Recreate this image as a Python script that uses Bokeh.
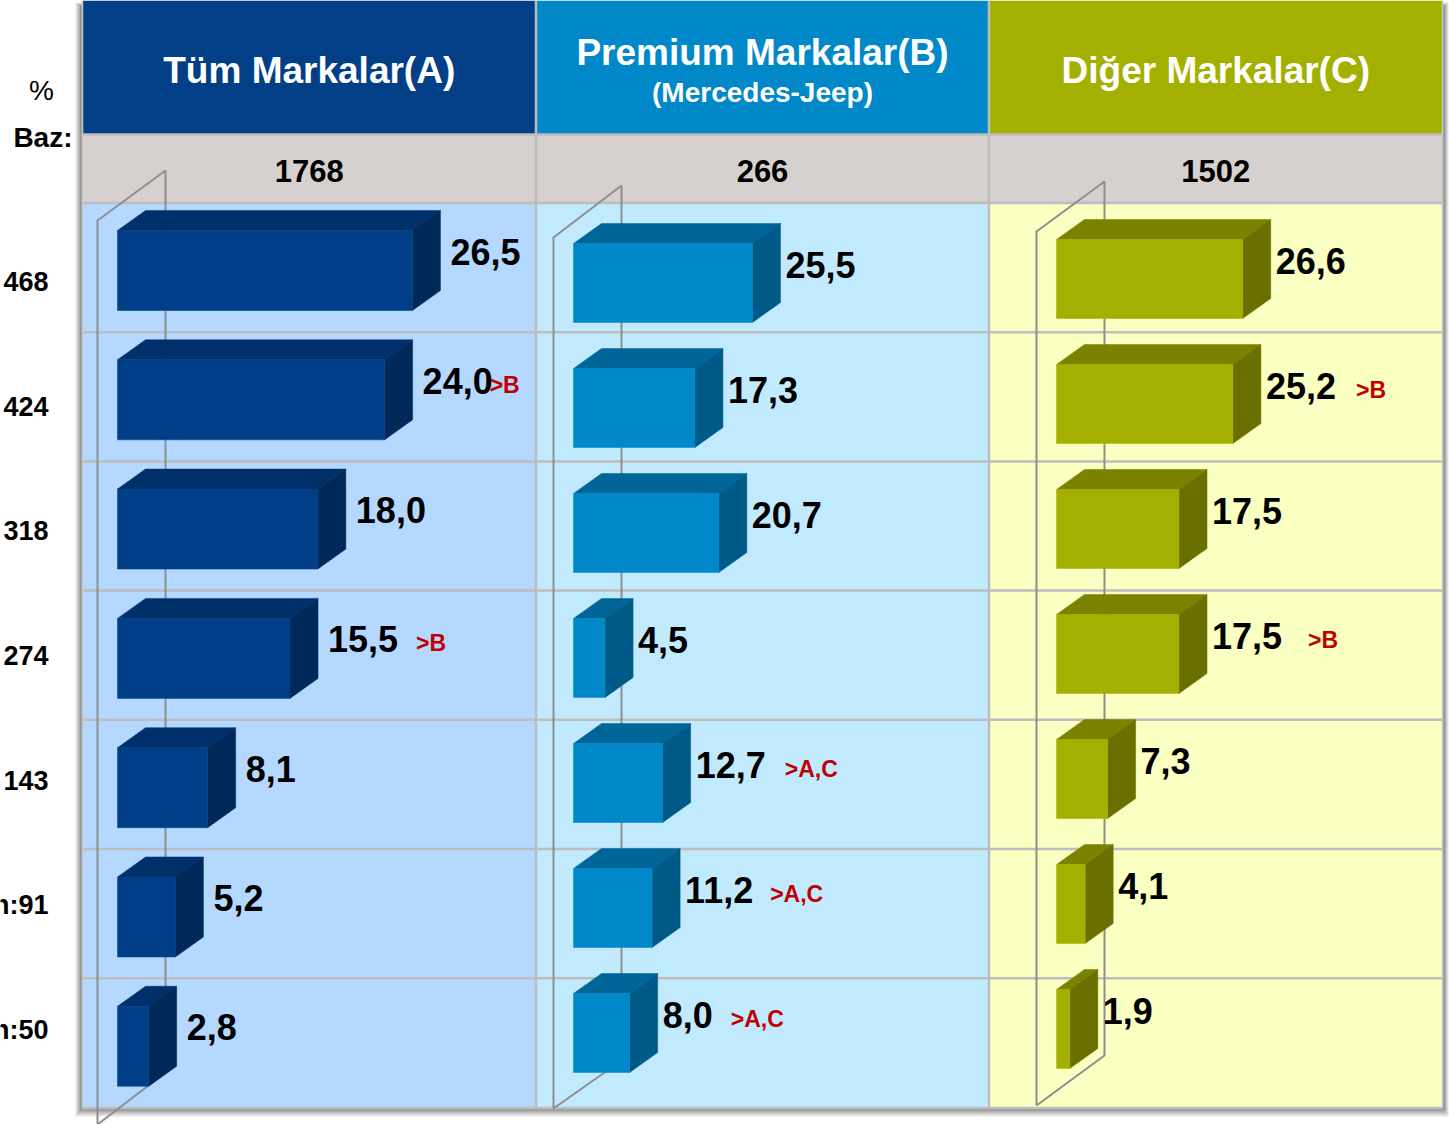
import numpy as np
from bokeh.plotting import figure
from bokeh.models import Range1d
from bokeh.core.properties import value
from bokeh.embed import file_html
from bokeh.resources import INLINE

# ---------------- data ----------------
panel_titles = ["Tüm Markalar(A)", "Premium Markalar(B)", "Diğer Markalar(C)"]
panel_subtitle_B = "(Mercedes-Jeep)"
base_counts = ["1768", "266", "1502"]
row_bases = ["468", "424", "318", "274", "143", "n:91", "n:50"]
values_A = [26.5, 24.0, 18.0, 15.5, 8.1, 5.2, 2.8]
values_B = [25.5, 17.3, 20.7, 4.5, 12.7, 11.2, 8.0]
values_C = [26.6, 25.2, 17.5, 17.5, 7.3, 4.1, 1.9]
notes_A = ["", ">B", "", ">B", "", "", ""]
notes_B = ["", "", "", "", ">A,C", ">A,C", ">A,C"]
notes_C = ["", ">B", "", ">B", "", "", ""]

# ---------------- layout ----------------
FONT = value("Liberation Sans")
W, H = 1449, 1124
p = figure(width=W, height=H, x_range=Range1d(0, W), y_range=Range1d(H, 0),
           output_backend="svg", toolbar_location=None, min_border=0,
           x_axis_location=None, y_axis_location=None)
p.grid.visible = False
p.outline_line_color = None
p.background_fill_color = "white"
p.border_fill_color = "white"

edges = [82, 535.5, 988.5, 1442]
HEAD_B, BASE_B, BODY_B = 134, 202.5, 1107.5
ROW_H = 129.2

panels = [
    dict(vals=values_A, notes=notes_A, head="#033F86", bg="#B4D8FF", front="#003F87", top="#00306A",
         side="#00295A", x0=117, scale=11.13, top0=230, step=129.3, h=80, gap=10,
         wall=97, wall_top=(220, 170), wall_bot=(1124, 1072)),
    dict(vals=values_B, notes=notes_B, head="#0088C8", bg="#C2EAFF", front="#0088C8", top="#006699",
         side="#005A88", x0=573, scale=7.02, top0=243, step=125, h=79, gap=5,
         wall=553, wall_top=(237, 185), wall_bot=(1108, 1060)),
    dict(vals=values_C, notes=notes_C, head="#A4B000", bg="#FAFFC2", front="#A3B000", top="#7B8200",
         side="#6A7000", x0=1056, scale=7.0, top0=239, step=125, h=79, gap=5,
         wall=1036, wall_top=(231, 181), wall_bot=(1105, 1055)),
]
note_gap_A = [0, -3, 0, 18, 0, 0, 0]
note_gap_B = [0, 0, 0, 0, 19, 15, 18]
note_gap_C = [0, 20, 0, 26, 0, 0, 0]
note_gaps = [note_gap_A, note_gap_B, note_gap_C]
DX, DY = 28, 20

# ---- shadow ----
for i, a in enumerate([0.18, 0.22, 0.3, 0.4]):
    p.quad(left=[75 + 1.5 * i], right=[1448 - 1.2 * i], top=[2 + i], bottom=[1116 - 2 * i],
           fill_color="#707070", fill_alpha=a, line_color=None)

# ---- panel backgrounds ----
p.quad(left=edges[:3], right=edges[1:], top=[0] * 3, bottom=[HEAD_B] * 3,
       fill_color=[pp["head"] for pp in panels], line_color=None)
p.quad(left=[edges[0]], right=[edges[3]], top=[HEAD_B], bottom=[BASE_B],
       fill_color="#D6D1CE", line_color=None)
p.quad(left=edges[:3], right=edges[1:], top=[BASE_B] * 3, bottom=[BODY_B] * 3,
       fill_color=[pp["bg"] for pp in panels], line_color=None)

# ---- grid lines ----
row_ys = [BASE_B + ROW_H * k for k in range(1, 7)]
xs, ys = [], []
for y in row_ys + [BASE_B, HEAD_B, BODY_B]:
    xs.append([edges[0], edges[3]]); ys.append([y, y])
for x in edges[1:3]:
    xs.append([x, x]); ys.append([0, BODY_B])
p.multi_line(xs=xs, ys=ys, line_color="#BDBDBD", line_width=2.5)
p.multi_line(xs=[[edges[0], edges[0]], [edges[3], edges[3]]], ys=[[0, BODY_B], [0, BODY_B]],
             line_color="#C8C8C8", line_width=1.5)

# ---- walls ----
wx, wy = [], []
for pp in panels:
    f, b = pp["wall"], pp["wall"] + 68
    wx.append([f, f, b, b, f]); wy.append([pp["wall_bot"][0], pp["wall_top"][0], pp["wall_top"][1],
                                            pp["wall_bot"][1], pp["wall_bot"][0]])
p.multi_line(xs=wx, ys=wy, line_color="#8E8E8E", line_width=2)

# ---- 3D bars ----
for k, pp in enumerate(panels):
    v = np.array(pp["vals"])
    n = len(v)
    x0 = pp["x0"]
    x1 = x0 + v * pp["scale"]
    yt = pp["top0"] + pp["step"] * np.arange(n)
    yb = yt + pp["h"]
    # top face
    p.patches(xs=[[x0, x0 + DX, a + DX, a] for a in x1],
              ys=[[t, t - DY, t - DY, t] for t in yt],
              fill_color=pp["top"], line_color=pp["top"], line_width=0.5)
    # side face
    p.patches(xs=[[a, a + DX, a + DX, a] for a in x1],
              ys=[[t, t - DY, b - DY, b] for t, b in zip(yt, yb)],
              fill_color=pp["side"], line_color=pp["side"], line_width=0.5)
    # front face
    p.quad(left=[x0] * n, right=x1, top=yt, bottom=yb,
           fill_color=pp["front"], line_color=pp["front"], line_width=0.5)
    # value labels
    labels = [f"{a:.1f}".replace(".", ",") for a in v]
    lx = x1 + DX + pp["gap"]
    ly = yt + 21
    p.text(x=lx, y=ly, text=labels, text_font=FONT, text_font_style="bold",
           text_font_size="36px", text_color="black", text_align="left", text_baseline="middle")
    # significance notes
    nx, ny, nt = [], [], []
    for i, note in enumerate(pp["notes"]):
        if note:
            width = 36 * (0.556 * (len(labels[i]) - 1) + 0.278)
            nx.append(lx[i] + width + note_gaps[k][i]); ny.append(ly[i] + 4); nt.append(note)
    if nt:
        p.text(x=nx, y=ny, text=nt, text_font=FONT, text_font_style="bold", text_font_size="23px",
               text_color="#C00000", text_align="left", text_baseline="middle")

# ---- headers ----
cx = [(edges[i] + edges[i + 1]) / 2 for i in range(3)]
p.text(x=[cx[0], cx[1], cx[2]], y=[70, 52, 70], text=panel_titles, text_font=FONT,
       text_font_style="bold", text_font_size="37px", text_color="white",
       text_align="center", text_baseline="middle")
p.text(x=[cx[1]], y=[92], text=[panel_subtitle_B], text_font=FONT, text_font_style="bold",
       text_font_size="28px", text_color="white", text_align="center", text_baseline="middle")
p.text(x=cx, y=[170] * 3, text=base_counts, text_font=FONT, text_font_style="bold",
       text_font_size="31px", text_color="black", text_align="center", text_baseline="middle")

# ---- left labels ----
p.text(x=[41], y=[90], text=["%"], text_font=FONT, text_font_size="28px", text_color="black",
       text_align="center", text_baseline="middle")
p.text(x=[72], y=[137], text=["Baz:"], text_font=FONT, text_font_style="bold", text_font_size="28px",
       text_color="black", text_align="right", text_baseline="middle")
p.text(x=[48] * len(row_bases), y=[281 + 124.7 * i for i in range(len(row_bases))], text=row_bases,
       text_font=FONT, text_font_style="bold", text_font_size="27px", text_color="black",
       text_align="right", text_baseline="middle")

open("out.html", "w").write(file_html(p, INLINE))
